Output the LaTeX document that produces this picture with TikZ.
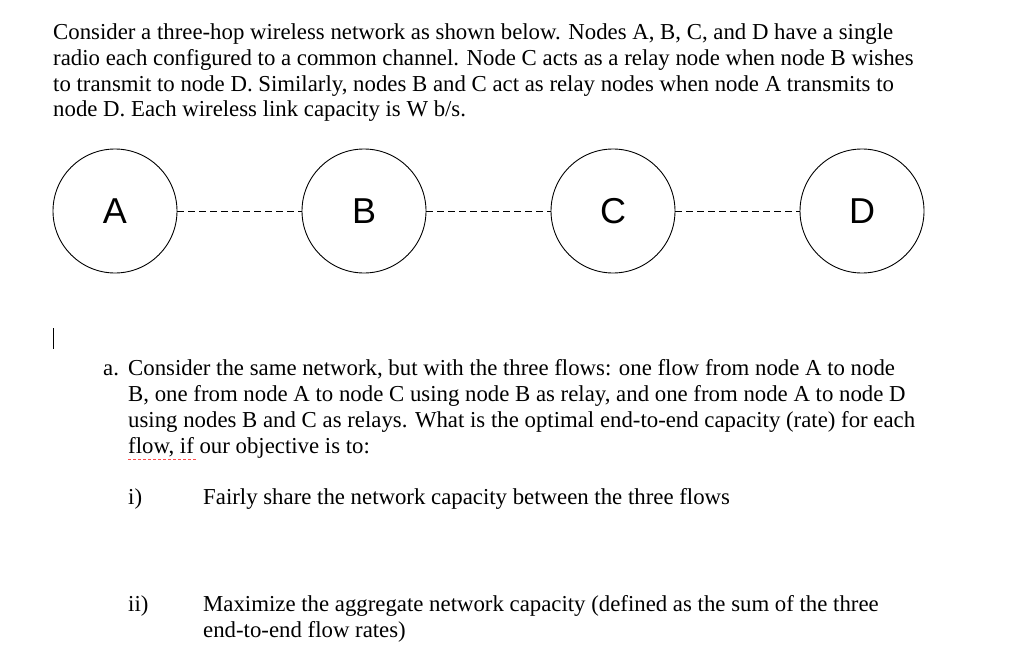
\documentclass[tikz,border=0pt]{standalone}
\usepackage{fontspec}
\setmainfont{Liberation Serif}
\newfontfamily\lsans{Liberation Sans}
\begin{document}
\begin{tikzpicture}[x=1pt,y=-1pt,
  txt/.style={anchor=base west,inner sep=0pt,font=\fontsize{22.8}{26}\selectfont},
  nd/.style={circle,draw,line width=0.9pt,minimum size=124pt,inner sep=0pt,font=\lsans\fontsize{36}{40}\selectfont},
  link/.style={dashed,dash pattern=on 7pt off 4pt,line width=0.8pt}]
\useasboundingbox (0,0) rectangle (1024,671);
\node[txt] (l1) at (53,40) {Consider a three-hop wireless network as shown below. Nodes A, B, C, and D have a single};
\node[txt] (l2) at (53,66) {radio each configured to a common channel. Node C acts as a relay node when node B wishes};
\node[txt] (l3) at (53,92) {to transmit to node D. Similarly, nodes B and C act as relay nodes when node A transmits to};
\node[txt] (l4) at (53,117) {node D. Each wireless link capacity is W b/s.};
\node[nd] (A) at (115,211) {A};
\node[nd] (B) at (364,211) {B};
\node[nd] (C) at (613,211) {C};
\node[nd] (D) at (862,211) {D};
\draw[link] (A) -- (B);
\draw[link] (B) -- (C);
\draw[link] (C) -- (D);
\draw[line width=0.8pt] (53,328) -- (53,349);
\node[txt] (a) at (103,375) {a.};
\node[txt] (p1) at (128,375) {Consider the same network, but with the three flows: one flow from node A to node};
\node[txt] (p2) at (128,401) {B, one from node A to node C using node B as relay, and one from node A to node D};
\node[txt] (p3) at (128,427) {using nodes B and C as relays. What is the optimal end-to-end capacity (rate) for each};
\node[txt] (p4) at (128,453) {flow, if our objective is to:};
\draw[red!70,densely dashed,line width=0.7pt] (128,459) -- (196,459);
\node[txt] (i) at (128,504) {i)};
\node[txt] (it) at (203,504) {Fairly share the network capacity between the three flows};
\node[txt] (ii) at (128,611) {ii)};
\node[txt] (iit1) at (203,611) {Maximize the aggregate network capacity (defined as the sum of the three};
\node[txt] (iit2) at (203,637) {end-to-end flow rates)};
\end{tikzpicture}
\end{document}
